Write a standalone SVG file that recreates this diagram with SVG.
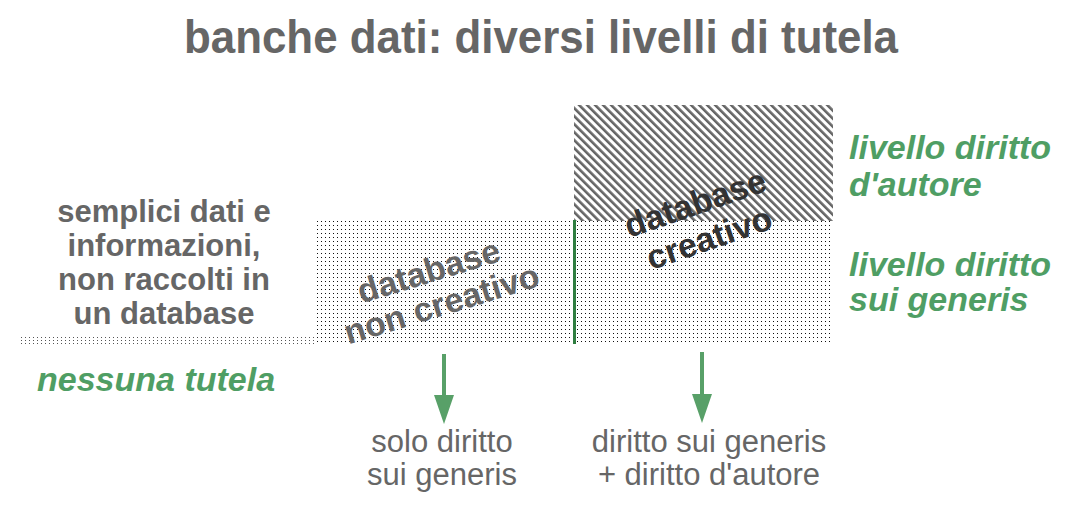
<svg xmlns="http://www.w3.org/2000/svg" width="1087" height="514" viewBox="0 0 1087 514">
<style>
.gray{fill:#666666;font-family:"Liberation Sans",Arial,sans-serif;}
.b{font-weight:bold;}
.green{fill:#4f9e64;font-family:"Liberation Sans",Arial,sans-serif;font-weight:bold;font-style:italic;font-size:34px;}
.mid{text-anchor:middle;}
.reg{font-size:31px;}
.left{font-size:31px;font-weight:bold;}
.rot{font-weight:bold;text-anchor:middle;font-size:34px;font-family:"Liberation Sans",Arial,sans-serif;}
</style>
<defs>
<pattern id="dots" width="4" height="4" patternUnits="userSpaceOnUse">
<rect x="1" y="1" width="1" height="1" fill="#111"/>
</pattern>
<pattern id="dots2" width="4" height="3" patternUnits="userSpaceOnUse">
<rect x="1" y="1" width="1" height="1" fill="#555"/>
</pattern>
<pattern id="hatch" width="5.66" height="10" patternUnits="userSpaceOnUse" patternTransform="rotate(-45)">
<rect x="0" y="0" width="2.6" height="10" fill="#666"/>
</pattern>
<marker id="ah" viewBox="0 0 29 20" refX="0" refY="10" markerWidth="29" markerHeight="20" markerUnits="userSpaceOnUse" orient="auto">
<path d="M0,0 L29,10 L0,20 Z" fill="#58a068"/>
</marker>
</defs>

<text id="title" class="gray b" x="184" y="53" font-size="46" textLength="714" lengthAdjust="spacingAndGlyphs">banche dati: diversi livelli di tutela</text>

<g id="no-protection">
<rect x="20" y="336" width="296" height="8" fill="url(#dots2)"/>
<text class="gray left mid" x="164" y="222">semplici dati e</text>
<text class="gray left mid" x="164" y="256">informazioni,</text>
<text class="gray left mid" x="164" y="290">non raccolti in</text>
<text class="gray left mid" x="164" y="324">un database</text>
<text class="green" x="37" y="391">nessuna tutela</text>
</g>

<g id="non-creative">
<rect x="316" y="221" width="259" height="123" fill="url(#dots)"/>
<text class="rot" fill="#666" x="432" y="282" transform="rotate(-17 432 282)">database</text>
<text class="rot" fill="#666" x="445" y="315" transform="rotate(-17 445 315)">non creativo</text>
</g>

<g id="creative">
<rect x="575" y="221" width="256" height="123" fill="url(#dots)"/>
<rect x="574" y="105" width="259" height="116" fill="url(#hatch)"/>
<text class="rot" fill="#333" x="699" y="214" transform="rotate(-19 699 214)">database</text>
<text class="rot" fill="#333" x="713" y="249" transform="rotate(-19 713 249)">creativo</text>
</g>

<g id="levels">
<text class="green" x="849" y="159">livello diritto</text>
<text class="green" x="849" y="196">d'autore</text>
<text class="green" x="849" y="276">livello diritto</text>
<text class="green" x="849" y="311">sui generis</text>
</g>

<g id="result-left">
<text class="gray reg mid" x="442" y="452">solo diritto</text>
<text class="gray reg mid" x="442" y="485">sui generis</text>
</g>
<g id="result-right">
<text class="gray reg mid" x="709" y="452">diritto sui generis</text>
<text class="gray reg mid" x="709" y="485">+ diritto d'autore</text>
</g>

<g id="connectors">
<line x1="574.5" y1="220" x2="574.5" y2="344" stroke="#2e7d3f" stroke-width="3"/>
<line x1="444" y1="354" x2="444" y2="395" stroke="#58a068" stroke-width="4" marker-end="url(#ah)"/>
<line x1="702" y1="352" x2="702" y2="394" stroke="#58a068" stroke-width="4" marker-end="url(#ah)"/>
</g>
</svg>
